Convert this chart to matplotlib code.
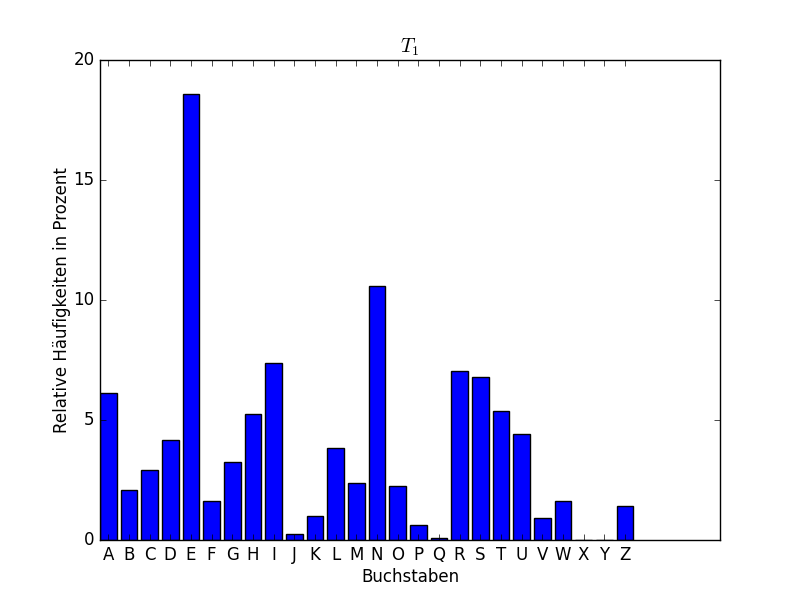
import matplotlib
matplotlib.use("Agg")
import matplotlib.pyplot as plt
import numpy as np

plt.style.use('classic')

# letters and relative frequencies (percent)
letters = list("ABCDEFGHIJKLMNOPQRSTUVWXYZ")
freqs = [6.12, 2.08, 2.92, 4.17, 18.58, 1.62, 3.25, 5.25, 7.37, 0.25,
         1.0, 3.83, 2.37, 10.58, 2.25, 0.62, 0.08, 7.04, 6.79, 5.37,
         4.42, 0.92, 1.62, 0.0, 0.0, 1.42]

fig = plt.figure(figsize=(8, 6), dpi=100)
ax = fig.add_subplot(111)

x = np.arange(len(letters))
ax.bar(x, freqs, width=0.8, align='edge', color='b', edgecolor='k')
ax.set_xticks(x + 0.4)
ax.set_xticklabels(letters)
ax.set_xlim(0, 30)
ax.set_ylim(0, 20)
ax.set_yticks([0, 5, 10, 15, 20])

ax.set_xlabel("Buchstaben", labelpad=3)
ax.set_ylabel("Relative Häufigkeiten in Prozent", labelpad=1.5)
ax.set_title("$T_1$")

fig.savefig("out.png", dpi=100)
